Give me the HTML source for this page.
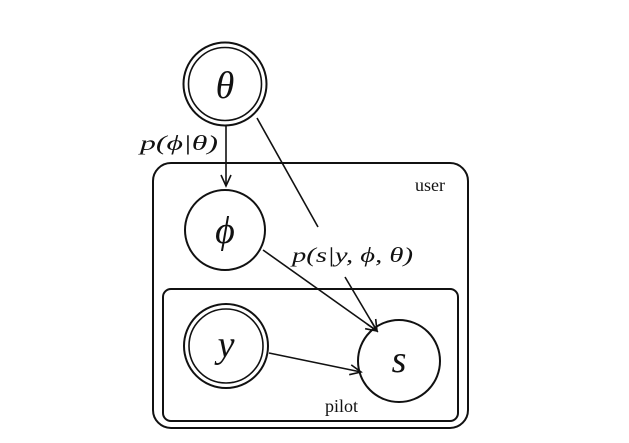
<!DOCTYPE html>
<html><head><meta charset="utf-8"><style>
html,body{margin:0;padding:0;background:#fff;}
svg{display:block;}
text{font-family:"Liberation Serif",serif;fill:#111;}
</style></head><body>
<svg width="629" height="443" viewBox="0 0 629 443" xmlns="http://www.w3.org/2000/svg">
<defs>
<marker id="a" markerWidth="14" markerHeight="12" refX="12" refY="6" orient="auto" markerUnits="userSpaceOnUse">
<path d="M1,1 L12,6 L1,11" fill="none" stroke="#111" stroke-width="1.6"/>
</marker>
</defs>
<g fill="none" stroke="#111" stroke-width="2">
<rect x="153" y="163" width="315" height="265" rx="18"/>
<rect x="163" y="289" width="295" height="132" rx="8"/>
<circle cx="225" cy="84" r="41.5"/>
<circle cx="225" cy="84" r="36.5" stroke-width="1.6"/>
<circle cx="225" cy="230" r="40"/>
<circle cx="226" cy="346" r="42"/>
<circle cx="226" cy="346" r="37" stroke-width="1.6"/>
<circle cx="399" cy="361" r="41"/>
</g>
<g stroke="#111" stroke-width="1.6" fill="none">
<line x1="226" y1="126" x2="226" y2="186" marker-end="url(#a)"/>
<line x1="257" y1="118" x2="318" y2="227"/>
<line x1="345" y1="277" x2="377" y2="331" marker-end="url(#a)"/>
<line x1="263" y1="250" x2="377" y2="331" marker-end="url(#a)"/>
<line x1="269" y1="353" x2="361" y2="372" marker-end="url(#a)"/>
</g>
<text x="225" y="98" font-size="38" font-style="italic" text-anchor="middle">θ</text>
<text x="225" y="243" font-size="38" font-style="italic" text-anchor="middle">ϕ</text>
<text x="226" y="357" font-size="38" font-style="italic" text-anchor="middle">y</text>
<text x="399" y="372" font-size="38" font-style="italic" text-anchor="middle">s</text>
<text x="140" y="150" font-size="21" font-style="italic" textLength="78" lengthAdjust="spacingAndGlyphs">p(ϕ|θ)</text>
<text x="292" y="262" font-size="21" font-style="italic" textLength="121" lengthAdjust="spacingAndGlyphs">p(s|y, ϕ, θ)</text>
<text x="415" y="191" font-size="18">user</text>
<text x="325" y="412" font-size="18">pilot</text>
</svg>
</body></html>
